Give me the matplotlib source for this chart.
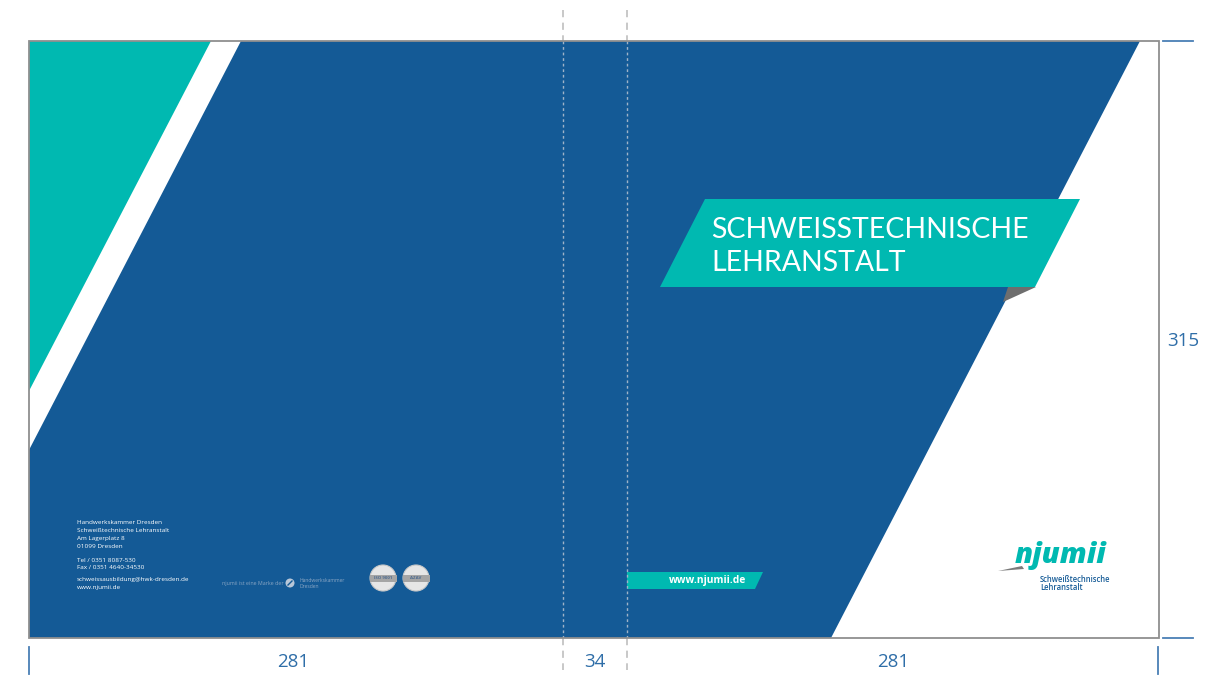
import matplotlib
matplotlib.use("Agg")
import matplotlib.pyplot as plt
from matplotlib.patches import Polygon, Circle, Rectangle

# ---- data (texts and dimensions) ----
dim_width_labels = ["281", "34", "281"]
dim_height_label = "315"
title_lines = ["SCHWEISSTECHNISCHE", "LEHRANSTALT"]
web_label = "www.njumii.de"
address_lines = ["Handwerkskammer Dresden", "Schweißtechnische Lehranstalt",
                 "Am Lagerplatz 8", "01099 Dresden"]
contact_lines = ["Tel / 0351 8087-530", "Fax / 0351 4640-34530"]
mail_lines = ["schweissausbildung@hwk-dresden.de", "www.njumii.de"]
brand_note = "njumii ist eine Marke der"
hwk_lines = ["Handwerkskammer", "Dresden"]
seal_labels = ["ISO 9001", "AZAV"]
logo_word = "njumii"
logo_sub = ["Schweißtechnische", "Lehranstalt"]

BLUE = "#145a96"
TEAL = "#00b9b1"
DIMBLUE = "#2f6ea8"

fig = plt.figure(figsize=(12.24, 6.77), dpi=100)
ax = fig.add_axes([0, 0, 1, 1])
ax.set_xlim(0, 1224)
ax.set_ylim(677, 0)
ax.axis("off")

# teal triangle (back cover)
ax.add_patch(Polygon([(29, 41), (211, 41), (29, 391)], closed=True, fc=TEAL, ec="none", zorder=1))
# main blue shape
ax.add_patch(Polygon([(241, 41), (1140, 41), (831, 638), (29, 638), (29, 450)],
                     closed=True, fc=BLUE, ec="none", zorder=1))

# frame
ax.add_patch(Rectangle((29, 41), 1159 - 29, 638 - 41, fill=False, ec="#8f8f8f", lw=1.3, zorder=5))

# spine dashed lines
for xs in (563, 627):
    ax.plot([xs, xs], [10, 41], color="#c4c4c4", lw=1.3, ls=(0, (4, 3)), zorder=4)
    ax.plot([xs, xs], [41, 638], color="#9fb3c8", lw=1.0, ls=(0, (2, 2)), zorder=4)
    ax.plot([xs, xs], [638, 670], color="#c4c4c4", lw=1.3, ls=(0, (4, 3)), zorder=4)

# title banner
ax.add_patch(Polygon([(1008, 287), (1036, 287), (1003, 302)], closed=True, fc="#6e6e6e", ec="none", zorder=2))
ax.add_patch(Polygon([(705, 199), (1080, 199), (1035, 287), (660, 287)], closed=True,
                     fc=TEAL, ec="none", zorder=3))
for i, line in enumerate(title_lines):
    ax.text(711, 230 + i * 33, line, color="white", fontsize=20.5, family="Lato",
            fontweight="normal", va="center", ha="left", zorder=4)

# web bar
ax.add_patch(Polygon([(627, 572), (763, 572), (755, 589), (627, 589)], closed=True,
                     fc=TEAL, ec="none", zorder=3))
ax.text(708, 580.5, web_label, color="white", fontsize=7.4, fontweight="bold",
        family="Open Sans", ha="center", va="center", zorder=4)

# address block
def small_lines(lines, y0, x=77, step=7.8):
    for i, t in enumerate(lines):
        ax.text(x, y0 + i * step, t, color="white", fontsize=4.6, family="Open Sans",
                ha="left", va="center", zorder=4)

small_lines(address_lines, 523)
small_lines(contact_lines, 560)
small_lines(mail_lines, 580)

# brand note
ax.text(222, 583, brand_note, color="#8aa6c4", fontsize=3.8, family="Open Sans",
        ha="left", va="center", zorder=4)
ax.add_patch(Circle((290, 583), 4.5, fc="#b8c7d8", ec="none", zorder=4))
ax.plot([288, 292], [585, 581], color=BLUE, lw=1, zorder=5)
for i, t in enumerate(hwk_lines):
    ax.text(299, 580 + i * 6.5, t, color="#8aa6c4", fontsize=3.6, family="Open Sans",
            ha="left", va="center", zorder=4)

# seals
for cx, lab in zip((383, 416), seal_labels):
    ax.add_patch(Circle((cx, 578), 13, fc="#e6e6e6", ec="#c8c8c8", lw=0.8, zorder=4))
    ax.add_patch(Rectangle((cx - 13.5, 574.5), 27, 7, fc="#a5a5a5", ec="none", zorder=5))
    ax.text(cx, 578, lab, color="#4d6b8f", fontsize=3.2, fontweight="bold", ha="center",
            va="center", family="Open Sans", zorder=6)

# njumii logo
ax.add_patch(Polygon([(998, 571), (1022, 566), (1024, 569)], closed=True, fc="#7a7a7a", ec="none", zorder=3))
ax.text(1061, 556, logo_word, color=TEAL, fontsize=21, fontweight="heavy", style="italic",
        family="Open Sans", ha="center", va="center", zorder=4)
for i, t in enumerate(logo_sub):
    ax.text(1040, 579 + i * 8, t, color=BLUE, fontsize=5.5, family="Open Sans",
            fontweight="semibold", ha="left", va="center", zorder=4)

# dimension marks
for y in (41, 638):
    ax.plot([1163, 1193], [y, y], color="#4a7fb5", lw=1.3)
for x in (29, 1158):
    ax.plot([x, x], [647, 674], color="#4a7fb5", lw=1.3)

ax.text(1183, 341, dim_height_label, color=DIMBLUE, fontsize=13.5, family="Open Sans",
        ha="center", va="center")
for x, lab in zip((293, 595, 893), dim_width_labels):
    ax.text(x, 662, lab, color=DIMBLUE, fontsize=13.5, family="Open Sans",
            ha="center", va="center")

fig.savefig("out.png", dpi=100)
